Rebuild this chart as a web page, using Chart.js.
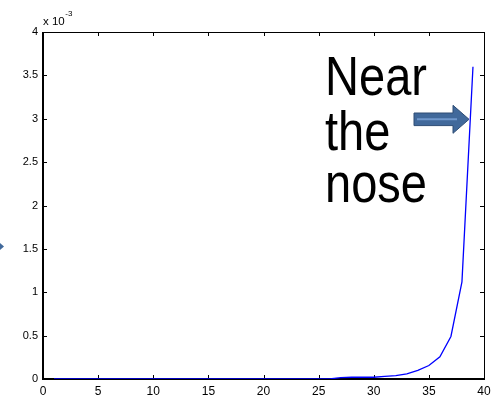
<!DOCTYPE html>
<html>
<head>
<meta charset="utf-8">
<script src="https://cdn.jsdelivr.net/npm/chart.js@4/dist/chart.umd.min.js"></script>
<style>
html,body{margin:0;padding:0;background:#fff;}
#wrap{width:501px;height:397px;}
</style>
</head>
<body>
<div id="wrap"><canvas id="c" width="501" height="397"></canvas></div>
<script>
// Data (y values in units of 1e-3)
const xValues = [1,2,3,4,5,6,7,8,9,10,11,12,13,14,15,16,17,18,19,20,21,22,23,24,25,26,27,28,29,30,31,32,33,34,35,36,37,38,39];
const yValues = [0,0,0,0,0,0,0,0,0,0,0,0,0,0,0,0,0,0,0,0,0,0,0,0,0,0.002,0.015,0.02,0.02,0.02,0.03,0.04,0.06,0.1,0.155,0.255,0.49,1.12,3.6];
const xTicks = [0,5,10,15,20,25,30,35,40];
const yTicks = [0,0.5,1,1.5,2,2.5,3,3.5,4];
const exponentBase = 'x 10';
const exponentPower = '-3';
const noteLines = ['Near','the','nose'];

const FONT = '"Liberation Sans", Arial, sans-serif';

const boxPlugin = {
  id: 'box',
  beforeDatasetsDraw(chart) {
    const ctx = chart.ctx, a = chart.chartArea;
    const xs = chart.scales.x, ys = chart.scales.y;
    ctx.save();
    ctx.strokeStyle = '#000';
    ctx.lineWidth = 1;
    ctx.beginPath();
    ctx.moveTo(a.left, a.top + 0.5); ctx.lineTo(a.right + 0.5, a.top + 0.5);
    ctx.lineTo(a.right + 0.5, a.bottom);
    ctx.stroke();
    ctx.lineWidth = 2;
    ctx.beginPath();
    ctx.moveTo(a.left, a.top); ctx.lineTo(a.left, a.bottom); ctx.lineTo(a.right + 1, a.bottom);
    ctx.stroke();
    ctx.lineWidth = 1;
    const tl = 4;
    ctx.beginPath();
    xTicks.forEach(v => {
      const px = Math.round(xs.getPixelForValue(v)) + 0.5;
      ctx.moveTo(px, a.bottom); ctx.lineTo(px, a.bottom - tl);
      ctx.moveTo(px, a.top); ctx.lineTo(px, a.top + tl);
    });
    yTicks.forEach(v => {
      const py = Math.round(ys.getPixelForValue(v)) + 0.5;
      ctx.moveTo(a.left, py); ctx.lineTo(a.left + tl, py);
      ctx.moveTo(a.right, py); ctx.lineTo(a.right - tl, py);
    });
    ctx.stroke();
    ctx.restore();
  },
  afterDraw(chart) {
    const ctx = chart.ctx;
    ctx.save();
    ctx.fillStyle = '#000';
    ctx.textBaseline = 'alphabetic';
    ctx.textAlign = 'left';
    ctx.font = '11.5px ' + FONT;
    ctx.fillText(exponentBase, 43, 25);
    const w = ctx.measureText(exponentBase).width;
    ctx.font = '8px ' + FONT;
    ctx.fillText(exponentPower, 43 + w + 0.5, 16);

    ctx.font = '56px ' + FONT;
    const baselines = [95, 150, 202];
    noteLines.forEach((t, i) => {
      ctx.save();
      ctx.translate(325, baselines[i]);
      ctx.scale(0.84, 1);
      ctx.fillText(t, 0, 0);
      ctx.restore();
    });

    const drawArrow = (x0, xb, xt, cy, sh, hh) => {
      ctx.beginPath();
      ctx.moveTo(x0, cy - sh);
      ctx.lineTo(xb, cy - sh);
      ctx.lineTo(xb, cy - hh);
      ctx.lineTo(xt, cy);
      ctx.lineTo(xb, cy + hh);
      ctx.lineTo(xb, cy + sh);
      ctx.lineTo(x0, cy + sh);
      ctx.closePath();
      ctx.fillStyle = '#41699b';
      ctx.fill();
      ctx.strokeStyle = '#2e4d75';
      ctx.lineWidth = 1;
      ctx.stroke();
      ctx.strokeStyle = '#7098cc';
      ctx.lineWidth = 2;
      ctx.beginPath();
      ctx.moveTo(x0 + 3, cy); ctx.lineTo(xb + 4, cy);
      ctx.stroke();
    };
    drawArrow(414, 453, 469, 119.3, 6.3, 14);
    ctx.beginPath();
    ctx.moveTo(-6, 238); ctx.lineTo(4, 246.5); ctx.lineTo(-6, 255);
    ctx.closePath();
    ctx.fillStyle = '#41699b';
    ctx.fill();
    ctx.restore();
  }
};

new Chart(document.getElementById('c'), {
  type: 'line',
  data: {
    datasets: [{
      data: xValues.map((x, i) => ({x: x, y: yValues[i]})),
      borderColor: '#0000ff',
      borderWidth: 1.3,
      pointRadius: 0,
      tension: 0,
      fill: false
    }]
  },
  options: {
    responsive: false,
    animation: false,
    events: [],
    layout: { padding: { top: 32, right: 17, left: 0, bottom: 0 } },
    plugins: { legend: { display: false }, tooltip: { enabled: false } },
    scales: {
      x: {
        type: 'linear', min: 0, max: 40,
        afterFit(s) { s.height = 18; },
        afterBuildTicks(s) { s.ticks = xTicks.map(v => ({value: v})); },
        grid: { display: false, drawTicks: false },
        border: { display: false },
        ticks: { color: '#000', font: { family: FONT, size: 12 }, padding: 5, maxRotation: 0, autoSkip: false,
                 callback: v => String(v) }
      },
      y: {
        type: 'linear', min: 0, max: 4,
        afterFit(s) { s.width = 43; },
        afterBuildTicks(s) { s.ticks = yTicks.map(v => ({value: v})); },
        grid: { display: false, drawTicks: false },
        border: { display: false },
        ticks: { color: '#000', font: { family: FONT, size: 11 }, padding: 5, autoSkip: false,
                 callback: v => String(v) }
      }
    }
  },
  plugins: [boxPlugin]
});
</script>
</body>
</html>
